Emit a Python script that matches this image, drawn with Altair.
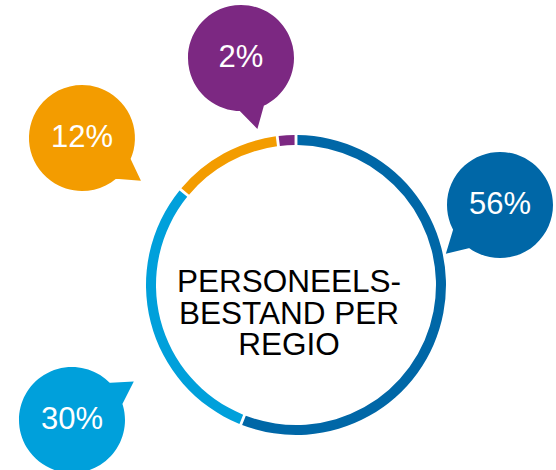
import altair as alt
import pandas as pd

# ---- data ----
labels = ["56%", "30%", "12%", "2%"]
values = [56, 30, 12, 2]
colors = ["#0067A7", "#00A0DB", "#F39C00", "#7C2882"]
title_lines = ["PERSONEELS-", "BESTAND PER", "REGIO"]

# ---- layout (pixel positions of the decorative bubbles and title lines) ----
W, H = 556, 470
ring_cx, ring_cy = 296, 285
bubble_x = [500, 72, 82, 241]
bubble_y = [205, 420, 138, 58]
tail_angle = [48, 238, 306, 347]
title_x = [289, 289, 289]
title_y = [292, 323.5, 355]

ring = pd.DataFrame({"label": labels, "value": values, "color": colors,
                     "order": list(range(len(values)))})
bubbles = pd.DataFrame({"label": labels, "color": colors,
                        "bx": bubble_x, "by": bubble_y, "ang": tail_angle})
title_df = pd.DataFrame({"t": title_lines, "tx": title_x, "ty": title_y})

xs = alt.Scale(domain=[0, W], range=[0, W], nice=False, zero=False)
ys = alt.Scale(domain=[0, H], range=[0, H], nice=False, zero=False)

# speech bubble: circle (r=0.72) + tail pointing down, same winding
BUBBLE = ("M -0.72 0 A 0.72 0.72 0 1 1 0.72 0 A 0.72 0.72 0 1 1 -0.72 0 Z "
          "M -0.2 0.66 L 0.18 0.66 L 0 0.99 Z")

arc = alt.Chart(ring).mark_arc(innerRadius=140, outerRadius=150, padAngle=0.014).encode(
    theta=alt.Theta("value:Q", stack=True),
    color=alt.Color("color:N", scale=None),
    order=alt.Order("order:Q"),
    x=alt.value(ring_cx),
    y=alt.value(ring_cy),
)

bub = alt.Chart(bubbles).mark_point(shape=BUBBLE, filled=True, opacity=1,
                                    size=21670, strokeWidth=0).encode(
    x=alt.X("bx:Q", scale=xs, axis=None),
    y=alt.Y("by:Q", scale=ys, axis=None),
    angle=alt.Angle("ang:Q", scale=None),
    color=alt.Color("color:N", scale=None),
)

btxt = alt.Chart(bubbles).mark_text(fontSize=31, color="white", font="Liberation Sans",
                                    align="center", baseline="middle").encode(
    x=alt.X("bx:Q", scale=xs, axis=None),
    y=alt.Y("by:Q", scale=ys, axis=None),
    text="label:N",
)

ctxt = alt.Chart(title_df).mark_text(fontSize=31.5, color="black", font="Liberation Sans",
                                     align="center", baseline="alphabetic").encode(
    x=alt.X("tx:Q", scale=xs, axis=None),
    y=alt.Y("ty:Q", scale=ys, axis=None),
    text="t:N",
)

chart = alt.layer(arc, bub, btxt, ctxt).properties(
    width=W, height=H, padding=0, autosize="none"
).configure_view(strokeWidth=0)

chart.save("out.html", embed_options={"renderer": "svg", "actions": False})
